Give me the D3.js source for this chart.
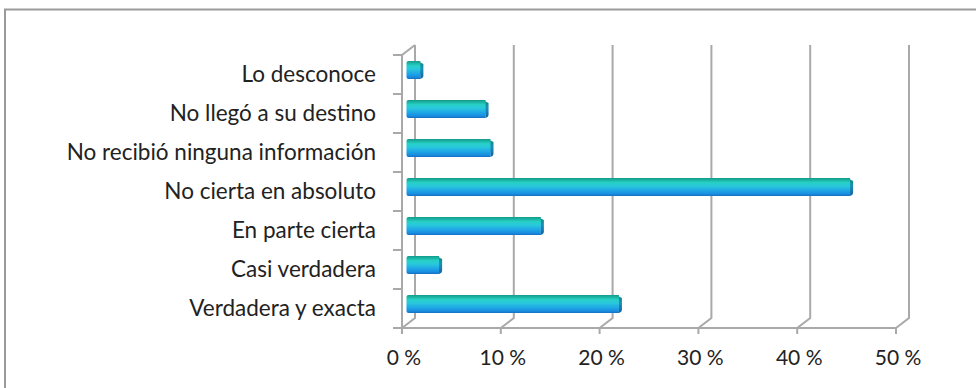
<!DOCTYPE html>
<html><head><meta charset="utf-8">
<script src="https://cdn.jsdelivr.net/npm/d3@7"></script>
<style>
html,body{margin:0;padding:0;background:#fff;}
svg{display:block;}
</style></head>
<body>
<svg id="chart" width="976" height="388"></svg>
<script>
const categories = ["Lo desconoce","No llegó a su destino","No recibió ninguna información","No cierta en absoluto","En parte cierta","Casi verdadera","Verdadera y exacta"];
const values = [0.013, 0.079, 0.084, 0.448, 0.135, 0.032, 0.214];
const tickValues = [0, 0.1, 0.2, 0.3, 0.4, 0.5];
const tickLabels = ["0 %","10 %","20 %","30 %","40 %","50 %"];

const svg = d3.select("#chart");
const W = 976, H = 388;
const dx = 13, dy = -10;
const x = d3.scaleLinear().domain([0, 0.5]).range([402, 896]);
const y = d3.scaleBand().domain(categories).range([55, 328]).paddingInner(0).paddingOuter(0);
const base = 328;
const gridCol = "#a9a9a9";
const font = "Lato, 'Open Sans', Arial, sans-serif";

svg.append("rect").attr("width", W).attr("height", H).attr("fill", "#fff");
svg.append("rect").attr("x", 5).attr("y", 9.5).attr("width", 980).attr("height", 400)
  .attr("fill", "none").attr("stroke", "#9a9a9a").attr("stroke-width", 2);

const defs = svg.append("defs");
const grad = defs.append("linearGradient").attr("id", "barGrad").attr("x1", 0).attr("y1", 0).attr("x2", 0).attr("y2", 1);
[["0%", "#139a8c"], ["14%", "#1cb8a8"], ["26%", "#27d0c6"], ["45%", "#29c8dc"], ["70%", "#1fa6e6"], ["88%", "#1a8ee0"], ["100%", "#1570c4"]]
  .forEach(s => grad.append("stop").attr("offset", s[0]).attr("stop-color", s[1]));
const capGrad = defs.append("linearGradient").attr("id", "capGrad").attr("x1", 0).attr("y1", 0).attr("x2", 0).attr("y2", 1);
[["0%", "#128a80"], ["40%", "#1a90b8"], ["100%", "#14609e"]]
  .forEach(s => capGrad.append("stop").attr("offset", s[0]).attr("stop-color", s[1]));

// gridlines (back wall lines with slant to front)
const g = svg.append("g").attr("fill", "none").attr("stroke", gridCol).attr("stroke-width", 2);
tickValues.forEach(t => {
  const xf = x(t);
  g.append("path").attr("d", `M${xf},${base} L${xf + dx},${base + dy} L${xf + dx},${55 + dy}`);
});
// front vertical axis with top slant
g.append("path").attr("d", `M${x(0)},${base + 2} L${x(0)},55 L${x(0) + dx},${55 + dy}`);
// front baseline
g.append("line").attr("x1", 393).attr("x2", x(0.5)).attr("y1", base).attr("y2", base);
// x ticks
tickValues.forEach(t => {
  g.append("line").attr("x1", x(t)).attr("x2", x(t)).attr("y1", base).attr("y2", base + 6);
});
// category ticks
const bounds = categories.map(c => y(c)).concat([base]);
bounds.forEach(b => {
  g.append("line").attr("x1", 393).attr("x2", x(0)).attr("y1", b).attr("y2", b);
});

// bars
const bh = 18;
const bars = svg.append("g");
categories.forEach((c, i) => {
  const cy = y(c) + y.bandwidth() / 2 + dy / 2 + 0.5;
  const x0 = x(0) + dx / 2 - 2;
  const x1 = x(values[i]) + dx / 2;
  const top = cy - bh / 2, bot = cy + bh / 2;
  bars.append("path")
    .attr("d", `M${x1 - 2},${top + 1} L${x1 + 2},${top + 3} L${x1 + 2},${bot - 3} Q${x1 + 2},${bot - 1} ${x1 - 1},${bot} Z`)
    .attr("fill", "url(#capGrad)");
  bars.append("path")
    .attr("d", `M${x0 + 2},${top} L${x1 - 1},${top} L${x1 - 1},${bot} L${x0 + 2},${bot} Q${x0},${bot} ${x0},${bot - 2} L${x0},${top + 2} Q${x0},${top} ${x0 + 2},${top} Z`)
    .attr("fill", "url(#barGrad)");
});

// category labels
svg.append("g").selectAll("text").data(categories).join("text")
  .attr("x", 376)
  .attr("y", d => y(d) + y.bandwidth() / 2)
  .attr("dy", "0.35em")
  .attr("text-anchor", "end")
  .attr("font-family", font)
  .attr("font-size", 22.5)
  .attr("fill", "#222")
  .text(d => d);

// tick labels
svg.append("g").selectAll("text").data(tickValues).join("text")
  .attr("x", d => x(d) + 2)
  .attr("y", 365)
  .attr("text-anchor", "middle")
  .attr("font-family", font)
  .attr("font-size", 21)
  .attr("fill", "#222")
  .text((d, i) => tickLabels[i]);
</script>
</body></html>
